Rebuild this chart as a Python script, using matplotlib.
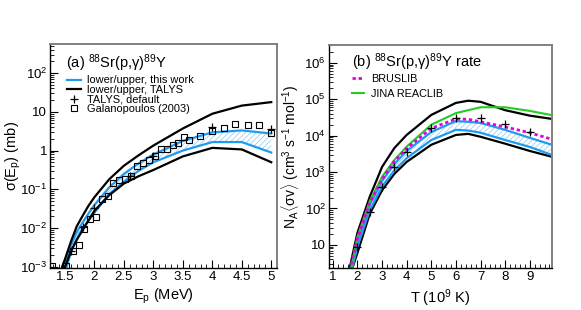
import numpy as np
import matplotlib
matplotlib.use('Agg')
import matplotlib.pyplot as plt
from matplotlib.ticker import FuncFormatter, LogLocator, MultipleLocator, NullFormatter

plt.rcParams['font.family'] = ['Liberation Sans', 'DejaVu Sans']
plt.rcParams['mathtext.fontset'] = 'custom'
plt.rcParams['mathtext.rm'] = 'Liberation Sans'
plt.rcParams['mathtext.it'] = 'Liberation Sans:italic'
plt.rcParams['hatch.linewidth'] = 0.5

# panel (a): cross sections, log10(sigma / mb)
E_curve = [1.45, 1.5, 1.6, 1.7, 1.8, 1.9, 2.0, 2.25, 2.5, 2.75, 3.0, 3.5, 4.0, 4.5, 5.0]
talys_up = [-3.0, -2.8, -2.35, -1.95, -1.68, -1.42, -1.2, -0.74, -0.39, -0.12, 0.13, 0.57, 0.95, 1.16, 1.25]
talys_lo = [-3.4, -3.0, -2.6, -2.3, -2.05, -1.8, -1.55, -1.15, -0.85, -0.66, -0.5, -0.15, 0.07, 0.03, -0.3]
work_up = [-3.3, -3.0, -2.45, -2.1, -1.85, -1.62, -1.4, -0.95, -0.6, -0.33, -0.1, 0.25, 0.47, 0.52, 0.44]
work_lo = [-3.5, -3.15, -2.62, -2.28, -2.0, -1.8, -1.6, -1.12, -0.8, -0.52, -0.3, 0.0, 0.22, 0.22, -0.05]

E_talys_def = [1.6, 1.8, 2.0, 2.6, 3.0, 4.0, 5.0]
talys_def = [-2.58, -1.97, -1.48, -0.66, -0.14, 0.6, 0.55]

E_gal = [1.28, 1.51, 1.63, 1.73, 1.83, 1.93, 2.03, 2.13, 2.23, 2.32, 2.42, 2.52, 2.62,
         2.72, 2.83, 2.93, 3.03, 3.13, 3.23, 3.34, 3.42, 3.52, 3.61, 3.79, 4.0, 4.2,
         4.39, 4.6, 4.8, 5.0]
sig_gal = [-2.97, -2.97, -2.59, -2.43, -2.02, -1.76, -1.72, -1.25, -1.17, -0.84, -0.76,
           -0.73, -0.65, -0.4, -0.32, -0.24, -0.14, 0.04, 0.04, 0.14, 0.2, 0.35, 0.27,
           0.37, 0.5, 0.58, 0.68, 0.66, 0.66, 0.46]

# panel (b): rates, log10(N_A<sigma v>)
T_curve = [1.7, 1.8, 2.0, 2.5, 3.0, 3.5, 4.0, 5.0, 6.0, 6.5, 7.0, 8.0, 9.0, 9.9]
rate_talys_up = [0.4, 0.72, 1.33, 2.32, 3.14, 3.66, 4.02, 4.57, 4.9, 4.96, 4.93, 4.7, 4.55, 4.46]
rate_talys_lo = [0.1, 0.37, 0.78, 1.85, 2.5, 2.95, 3.28, 3.75, 4.02, 4.05, 3.97, 3.78, 3.58, 3.42]
rate_work_up = [0.2, 0.55, 1.1, 2.1, 2.75, 3.22, 3.58, 4.1, 4.4, 4.38, 4.35, 4.16, 3.94, 3.75]
rate_work_lo = [0.05, 0.4, 0.95, 1.95, 2.6, 3.05, 3.38, 3.88, 4.16, 4.14, 4.08, 3.88, 3.69, 3.47]
rate_bruslib = [0.3, 0.62, 1.17, 2.15, 2.8, 3.3, 3.65, 4.2, 4.46, 4.45, 4.38, 4.24, 4.08, 3.9]

T_jina = [1.75, 2.0, 2.5, 3.0, 3.5, 4.0, 5.0, 6.0, 7.0, 8.0, 9.0, 10.0]
rate_jina = [0.37, 1.22, 2.2, 2.87, 3.33, 3.7, 4.3, 4.62, 4.78, 4.78, 4.68, 4.55]

T_def = [2.0, 2.5, 3.0, 3.5, 4.0, 5.0, 6.0, 7.0, 8.0, 9.0]
rate_def = [0.95, 1.9, 2.6, 3.15, 3.56, 4.2, 4.48, 4.48, 4.32, 4.1]

blue = '#1E9BF0'
hatch_col = '#8CC8F5'

def p10(v):
    return np.power(10.0, v)

def logfmt(v, pos):
    e = int(round(np.log10(v)))
    if e == 0:
        return '1'
    if e == 1:
        return '10'
    return '$10^{%d}$' % e

def style(ax):
    ax.set_yscale('log')
    for s in ['left', 'bottom']:
        ax.spines[s].set_color('black')
        ax.spines[s].set_linewidth(1.0)
    for s in ['top', 'right']:
        ax.spines[s].set_color('#808080')
        ax.spines[s].set_linewidth(1.4)
    ax.tick_params(which='both', direction='in', top=False, right=False, labelsize=9.5, pad=2)
    ax.tick_params(which='major', length=6, width=0.8)
    ax.tick_params(which='minor', length=3, width=0.6)
    ax.yaxis.set_major_locator(LogLocator(base=10, numticks=20))
    ax.yaxis.set_minor_locator(LogLocator(base=10, subs=np.arange(2, 10), numticks=20))
    ax.yaxis.set_major_formatter(FuncFormatter(logfmt))
    ax.yaxis.set_minor_formatter(NullFormatter())

fig = plt.figure(figsize=(5.81, 3.10), dpi=100)
ax1 = fig.add_axes([0.086, 0.135, 0.391, 0.723])
ax2 = fig.add_axes([0.566, 0.135, 0.384, 0.720])

# ---- panel (a)
style(ax1)
ax1.fill_between(E_curve, p10(work_lo), p10(work_up), facecolor='none',
                 edgecolor=hatch_col, hatch='//////', linewidth=0)
ax1.plot(E_curve, p10(work_up), color=blue, lw=1.6, label='lower/upper, this work')
ax1.plot(E_curve, p10(work_lo), color=blue, lw=1.6)
ax1.plot(E_curve, p10(talys_up), color='black', lw=1.6, label='lower/upper, TALYS')
ax1.plot(E_curve, p10(talys_lo), color='black', lw=1.6)
ax1.plot(E_talys_def, p10(talys_def), ls='none', marker='+', ms=6, mew=0.9,
         color='black', label='TALYS, default')
ax1.plot(E_gal, p10(sig_gal), ls='none', marker='s', ms=5, mew=0.8,
         mfc='none', mec='black', label='Galanopoulos (2003)')
ax1.set_xlim(1.245, 5.1)
ax1.set_ylim(9.3e-4, 5.6e2)
ax1.xaxis.set_minor_locator(MultipleLocator(0.1))
ax1.set_xticks([1.5, 2, 2.5, 3, 3.5, 4, 4.5, 5])
ax1.set_xticklabels(['1.5', '2', '2.5', '3', '3.5', '4', '4.5', '5'])
ax1.set_xlabel('E$_\\mathrm{p}$ (MeV)', fontsize=10.5, labelpad=3)
ax1.set_ylabel('σ(E$_\\mathrm{p}$) (mb)', fontsize=10.5)
ax1.yaxis.set_label_coords(-0.12, 0.5)
ax1.text(0.07, 0.915, '(a) $^{88}$Sr(p,γ)$^{89}$Y', transform=ax1.transAxes,
         fontsize=10.5, va='center')
ax1.legend(loc='upper left', bbox_to_anchor=(0.075, 0.86), frameon=False, fontsize=7.9,
           handlelength=1.3, handletextpad=0.5, labelspacing=-0.04, borderpad=0,
           borderaxespad=0)

# ---- panel (b)
style(ax2)
ax2.fill_between(T_curve, p10(rate_work_lo), p10(rate_work_up), facecolor='none',
                 edgecolor=hatch_col, hatch='//////', linewidth=0)
ax2.plot(T_curve, p10(rate_talys_up), color='black', lw=1.6)
ax2.plot(T_curve, p10(rate_talys_lo), color='black', lw=1.6)
ax2.plot(T_curve, p10(rate_work_up), color=blue, lw=1.6)
ax2.plot(T_curve, p10(rate_work_lo), color=blue, lw=1.6)
ax2.plot(T_jina, p10(rate_jina), color='#22CC22', lw=1.5, label='JINA REACLIB')
ax2.plot(T_curve, p10(rate_bruslib), color='#E000E0', lw=2.0, ls=(0, (1.2, 1.0)),
         label='BRUSLIB')
ax2.plot(T_def, p10(rate_def), ls='none', marker='+', ms=6, mew=0.9, color='black')
ax2.set_xlim(0.84, 9.9)
ax2.set_ylim(2.3, 3.1e6)
ax2.xaxis.set_minor_locator(MultipleLocator(0.2))
ax2.set_xticks(range(1, 10))
ax2.set_xlabel('T (10$^9$ K)', fontsize=10.5, labelpad=3)
ax2.set_ylabel('N$_\\mathrm{A}$$\\langle$σv$\\rangle$ (cm$^3$ s$^{-1}$ mol$^{-1}$)',
               fontsize=10)
ax2.yaxis.set_label_coords(-0.125, 0.5)
ax2.text(0.103, 0.924, '(b) $^{88}$Sr(p,γ)$^{89}$Y rate', transform=ax2.transAxes,
         fontsize=10.5, va='center')
h, l = ax2.get_legend_handles_labels()
ax2.legend(h[::-1], l[::-1], loc='upper left', bbox_to_anchor=(0.105, 0.87), frameon=False,
           fontsize=7.8, handlelength=1.1, handletextpad=0.6, labelspacing=0.45,
           borderpad=0, borderaxespad=0)

fig.savefig('out.png', dpi=100)
